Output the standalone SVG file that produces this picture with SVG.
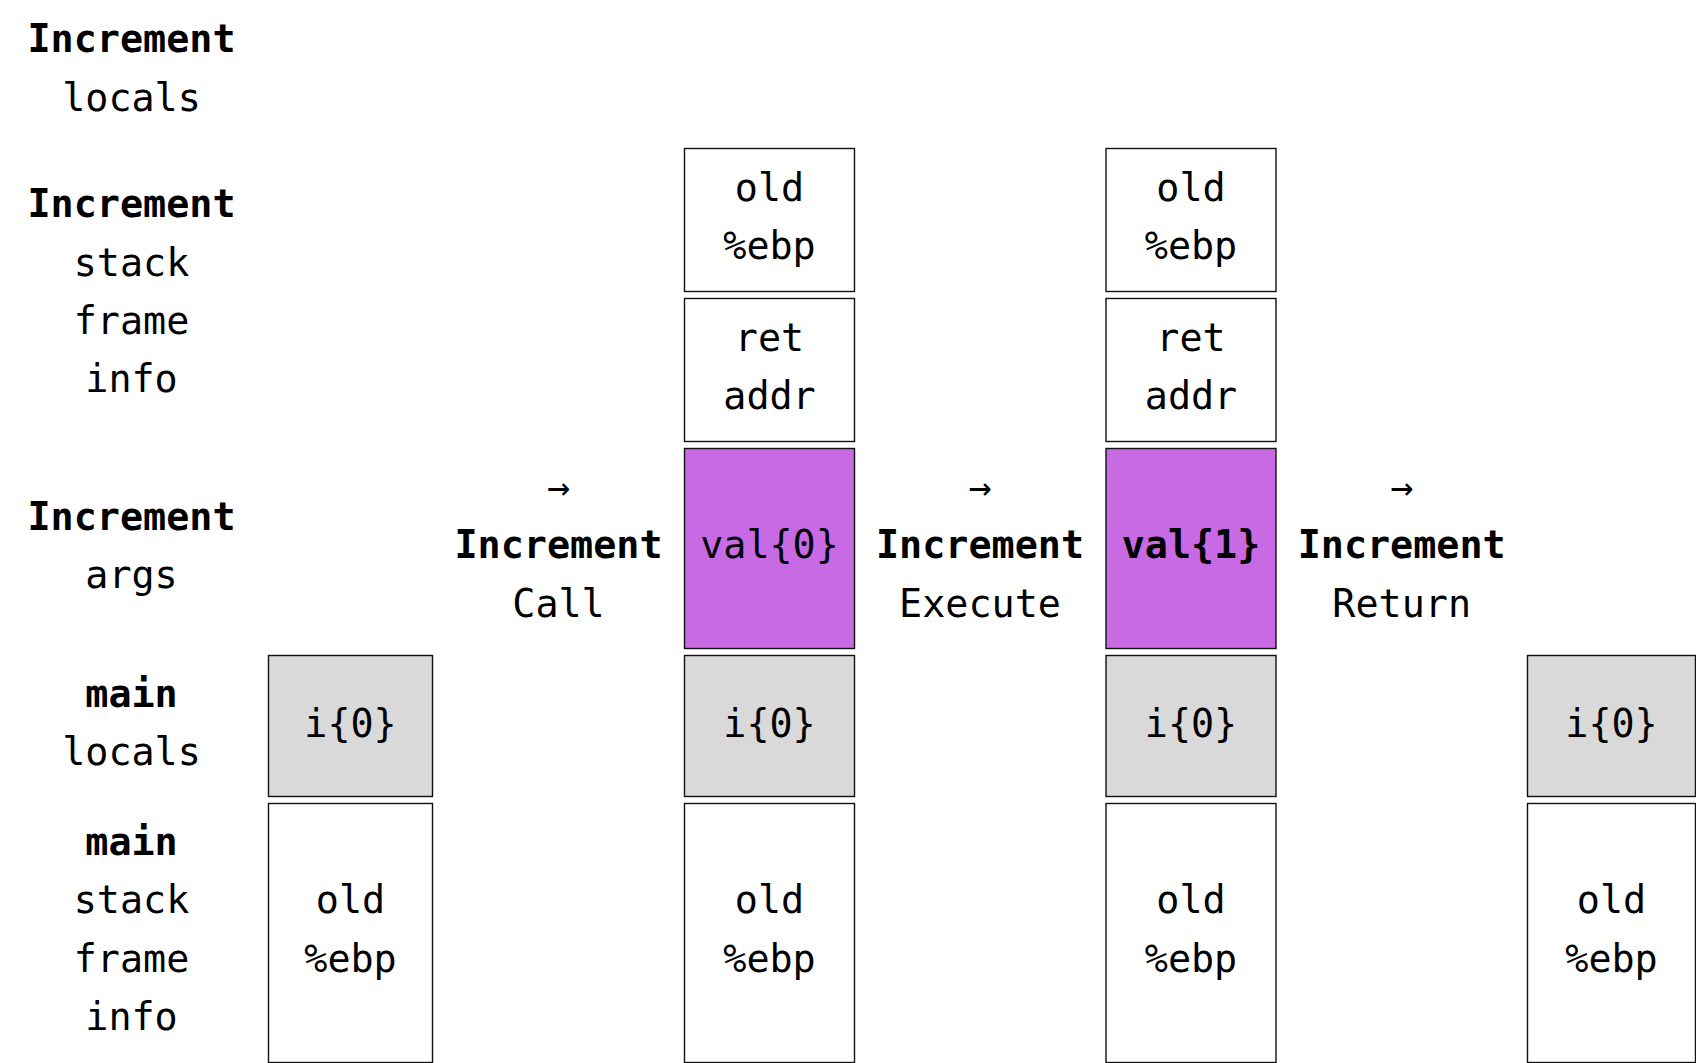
<svg xmlns="http://www.w3.org/2000/svg" width="1696" height="1063" viewBox="0 0 1696 1063">
<style>
text{font-family:"DejaVu Sans Mono","Liberation Mono",monospace;font-size:38.4px;fill:#000;text-anchor:middle}
.b{font-weight:bold}
.box{stroke:#111;stroke-width:1.4}
.w{fill:#fff}
.g{fill:#d9d9d9}
.p{fill:#c96ae5}
</style>
<rect width="1696" height="1063" fill="#fff"/>
<g id="labels">
<text x="131.5" y="52.3" class="b">Increment</text>
<text x="131.5" y="110.7">locals</text>
<text x="131.5" y="217.3" class="b">Increment</text>
<text x="131.5" y="275.7">stack</text>
<text x="131.5" y="334">frame</text>
<text x="131.5" y="392.4">info</text>
<text x="131.5" y="530" class="b">Increment</text>
<text x="131.5" y="588.4">args</text>
<text x="131.5" y="706.7" class="b">main</text>
<text x="131.5" y="765">locals</text>
<text x="131.5" y="855" class="b">main</text>
<text x="131.5" y="913.4">stack</text>
<text x="131.5" y="971.8">frame</text>
<text x="131.5" y="1030.2">info</text>
</g>
<g id="connectors"></g>
<g id="step-call">
<text x="558.5" y="500">→</text>
<text x="558.5" y="558.3" class="b">Increment</text>
<text x="558.5" y="616.7">Call</text>
</g>
<g id="step-execute">
<text x="980" y="500">→</text>
<text x="980" y="558.3" class="b">Increment</text>
<text x="980" y="616.7">Execute</text>
</g>
<g id="step-return">
<text x="1401.7" y="500">→</text>
<text x="1401.7" y="558.3" class="b">Increment</text>
<text x="1401.7" y="616.7">Return</text>
</g>
<g id="col1">
<g id="col1-main-locals"><rect class="box g" x="268.5" y="655.5" width="164" height="141"/><text x="350.5" y="736.7">i{0}</text></g>
<g id="col1-main-frame"><rect class="box w" x="268.5" y="803.5" width="164" height="259"/><text x="350.5" y="913.3">old</text><text x="350.5" y="971.7">%ebp</text></g>
</g>
<g id="col2">
<g id="col2-inc-ebp"><rect class="box w" x="684.5" y="148.5" width="170" height="143"/><text x="769.5" y="201">old</text><text x="769.5" y="259.3">%ebp</text></g>
<g id="col2-ret"><rect class="box w" x="684.5" y="298.5" width="170" height="143"/><text x="769.5" y="350.7">ret</text><text x="769.5" y="409">addr</text></g>
<g id="col2-args"><rect class="box p" x="684.5" y="448.5" width="170" height="200"/><text x="769.5" y="558.3">val{0}</text></g>
<g id="col2-main-locals"><rect class="box g" x="684.5" y="655.5" width="170" height="141"/><text x="769.5" y="736.7">i{0}</text></g>
<g id="col2-main-frame"><rect class="box w" x="684.5" y="803.5" width="170" height="259"/><text x="769.5" y="913.3">old</text><text x="769.5" y="971.7">%ebp</text></g>
</g>
<g id="col3">
<g id="col3-inc-ebp"><rect class="box w" x="1106" y="148.5" width="170" height="143"/><text x="1191" y="201">old</text><text x="1191" y="259.3">%ebp</text></g>
<g id="col3-ret"><rect class="box w" x="1106" y="298.5" width="170" height="143"/><text x="1191" y="350.7">ret</text><text x="1191" y="409">addr</text></g>
<g id="col3-args"><rect class="box p" x="1106" y="448.5" width="170" height="200"/><text x="1191" y="558.3" class="b">val{1}</text></g>
<g id="col3-main-locals"><rect class="box g" x="1106" y="655.5" width="170" height="141"/><text x="1191" y="736.7">i{0}</text></g>
<g id="col3-main-frame"><rect class="box w" x="1106" y="803.5" width="170" height="259"/><text x="1191" y="913.3">old</text><text x="1191" y="971.7">%ebp</text></g>
</g>
<g id="col4">
<g id="col4-main-locals"><rect class="box g" x="1527.5" y="655.5" width="168" height="141"/><text x="1611.5" y="736.7">i{0}</text></g>
<g id="col4-main-frame"><rect class="box w" x="1527.5" y="803.5" width="168" height="259"/><text x="1611.5" y="913.3">old</text><text x="1611.5" y="971.7">%ebp</text></g>
</g>
</svg>
